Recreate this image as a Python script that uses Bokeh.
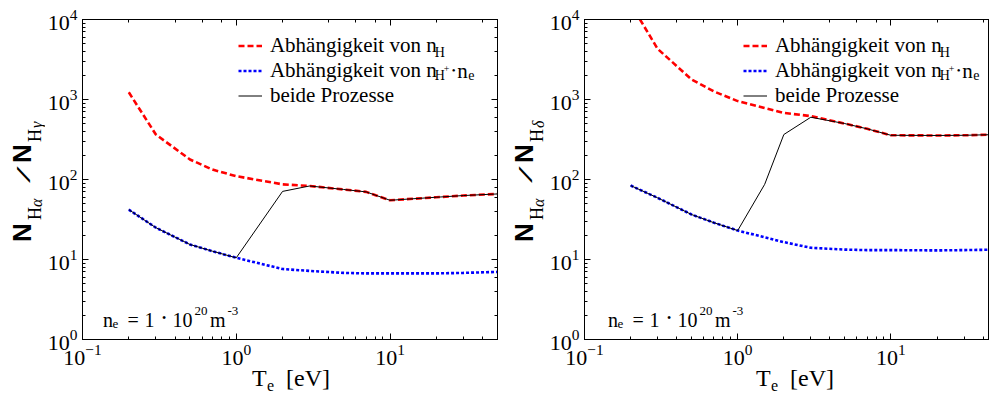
import math
from bokeh.plotting import figure
from bokeh.models import Range1d, LogAxis, Label, Legend, LegendItem, Div
from bokeh.layouts import row, column
from bokeh.embed import file_html
from bokeh.resources import INLINE

# ---------------- data ----------------
T_e = [0.2, 0.3, 0.5, 0.7, 1, 2, 3, 5, 7, 10, 20, 30, 50]

# left panel: N_Halpha / N_Hgamma
gamma_nH = [1230, 365, 178, 133, 110, 87, 83, 75, 70, 55, 60, 63, 66]
gamma_nHp_ne = [42, 25, 15.4, 12.7, 10.5, 7.6, 7.2, 6.8, 6.7, 6.7, 6.7, 6.8, 7.0]
gamma_both_T = [0.2, 0.3, 0.5, 0.7, 1, 2, 3, 5, 7, 10, 20, 30, 50]
gamma_both = [42, 25, 15.4, 12.7, 10.5, 71, 83, 75, 70, 55, 60, 63, 66]

# right panel: N_Halpha / N_Hdelta
delta_nH = [15700, 4300, 1780, 1260, 955, 680, 620, 500, 430, 357, 355, 357, 365]
delta_nHp_ne = [84, 59, 36.5, 28.8, 23, 16.5, 14.0, 13.3, 13.1, 13.1, 13.0, 13.1, 13.3]
delta_both_T = [0.2, 0.3, 0.5, 0.7, 1, 1.5, 2, 3, 5, 7, 10, 20, 30, 50]
delta_both = [84, 59, 36.5, 28.8, 23, 87, 365, 600, 500, 430, 357, 355, 357, 365]

legend_labels = ["Abhängigkeit von n", "Abhängigkeit von n", "beide Prozesse"]

SERIF = "Liberation Serif"
SANS = "Liberation Sans"
METRIC = {SERIF: (0.891, 0.216), SANS: (0.905, 0.212)}
FB = 340      # page y of frame bottom
OX, OY = 1, 1  # page origin of the layout


def put(p, FL, px, py, text, size, font=SERIF, style="normal"):
    p.add_layout(Label(x=px - FL, y=FB - py, x_units="screen", y_units="screen",
                       text=text, text_font=font, text_font_size=f"{size}px",
                       text_font_style=style, text_color="black",
                       text_align="left", text_baseline="alphabetic"))


def piece(text, x, yb, size, font=SERIF, weight="normal", style="normal",
          rot=False, sx=1.0, sy=1.0, dx0=0, dy0=0):
    a, d = METRIC[font]
    off = (a - d) / 2 * size
    base = (f"position:absolute;line-height:0;white-space:nowrap;margin:0;padding:0;"
            f"font-family:'{font}';font-size:{size}px;font-weight:{weight};"
            f"font-style:{style};color:black;")
    if not rot:
        left = x - dx0
        top = yb - off - dy0
        return f'<div style="{base}left:{left:.1f}px;top:{top:.1f}px;">{text}</div>'
    left = x - off * sy - dx0
    top = yb - dy0
    tr = f"rotate(-90deg) scale({sx},{sy})"
    return (f'<div style="{base}left:{left:.1f}px;top:{top:.1f}px;'
            f'transform:{tr};transform-origin:0 0;">{text}</div>')


def box(html, w, h):
    return Div(text=f'<div style="position:relative;width:{w}px;height:{h}px;overflow:visible;">{html}</div>',
               width=w, height=h, margin=0, styles={"overflow": "visible"})


def ylabel_div(greek, page_x0, w, h, shift):
    X = lambda v: v + shift
    k = dict(rot=True, dx0=page_x0, dy0=OY)
    parts = [
        piece("N", X(32), 242.5, 26, SANS, weight="bold", **k),
        piece("H", X(42), 221, 18, SERIF, **k),
        piece("α", X(43.5), 207.5, 16, SERIF, style="italic", **k),
        piece("/", X(30.6), 184, 30, SERIF, sx=2.0, sy=0.65, **k),
        piece("N", X(32), 164, 26, SANS, weight="bold", **k),
        piece("H", X(42), 142.5, 18, SERIF, **k),
        piece(greek, X(43.5), 129, 16, SERIF, style="italic", **k),
    ]
    return box("".join(parts), w, h)


def make_panel(T, nH, nHp, Tb, both, FL, fw, x_end, mbl, mbr, right_axis, leg_left, dx):
    p = figure(x_axis_type="log", y_axis_type="log",
               x_range=Range1d(0.1, x_end), y_range=Range1d(1, 1e4),
               frame_width=fw, frame_height=320,
               min_border_left=mbl, min_border_right=mbr,
               min_border_top=19, min_border_bottom=35,
               output_backend="svg", toolbar_location=None,
               background_fill_color="white", border_fill_color="white",
               outline_line_color="black", outline_line_width=1)
    p.grid.visible = False

    r1 = p.line(T, nH, line_color="#ff0000", line_width=2.6, line_dash="6 3")
    r2 = p.line(T, nHp, line_color="#0000ff", line_width=2.6, line_dash="3 2")
    r3 = p.line(Tb, both, line_color="black", line_width=1)

    for ax in [p.xaxis[0], p.yaxis[0]]:
        ax.major_tick_in = 6
        ax.major_tick_out = 0
        ax.minor_tick_in = 3
        ax.minor_tick_out = 0
        ax.major_label_text_font = SERIF
        ax.major_label_text_font_size = "22px"
        ax.major_label_text_color = "black"
        ax.axis_line_color = "black"
        ax.major_tick_line_color = "black"
        ax.minor_tick_line_color = "black"
        ax.major_label_standoff = 5

    extra = [("above", LogAxis())]
    if right_axis:
        extra.append(("right", LogAxis()))
    for side, ax in extra:
        ax.major_tick_in = 6
        ax.major_tick_out = 0
        ax.minor_tick_in = 3
        ax.minor_tick_out = 0
        ax.major_label_text_font_size = "2px"
        ax.major_label_text_alpha = 0
        ax.major_label_standoff = 0
        ax.axis_line_color = "black"
        p.add_layout(ax, side)

    legend = Legend(items=[LegendItem(label=legend_labels[0], renderers=[r1]),
                           LegendItem(label=legend_labels[1], renderers=[r2]),
                           LegendItem(label=legend_labels[2], renderers=[r3])],
                    location=(leg_left - FL + 2.2, FB - 101.5 - 7.5),
                    border_line_alpha=0, background_fill_alpha=0,
                    padding=0, margin=0, spacing=0,
                    glyph_width=24, glyph_height=23, label_height=23,
                    label_standoff=8, label_text_font=SERIF,
                    label_text_font_size="21px", label_text_color="black")
    p.add_layout(legend)

    # legend subscripts (E = end of the text "... von n")
    E = leg_left + 32 + 166
    B1, B2 = 42 + 6.3, 65 + 6.3
    put(p, FL, E + 0.5, B1 + 4.5, "H", 14)
    put(p, FL, E + 0.5, B2 + 4.5, "H", 14)
    put(p, FL, E + 9.5, B2 - 2, "+", 10)
    put(p, FL, E + 17.5, B2 - 1, "•", 11)
    put(p, FL, E + 23, B2, "n", 21)
    put(p, FL, E + 34, B2 + 4.5, "e", 14)

    # density annotation
    o = FL - 83 + dx
    put(p, FL, 103.5 + o, 320, "n", 20)
    put(p, FL, 113 + o, 324, "e", 13)
    put(p, FL, 128 + o, 320, "=", 20)
    put(p, FL, 145 + o, 320, "1", 20)
    put(p, FL, 162.5 + o, 318, "•", 12)
    put(p, FL, 173 + o, 320, "10", 20)
    put(p, FL, 195 + o, 311, "20", 13)
    put(p, FL, 210.5 + o, 320, "m", 20)
    put(p, FL, 228 + o, 311, "-3", 13)
    return p


FIG_H = 19 + 320 + 35
left = make_panel(T_e, gamma_nH, gamma_nHp_ne, gamma_both_T, gamma_both,
                  FL=83, fw=415, x_end=50, mbl=38, mbr=5, right_axis=True,
                  leg_left=236.7, dx=0)
right = make_panel(T_e, delta_nH, delta_nHp_ne, delta_both_T, delta_both,
                   FL=585, fw=405, x_end=44, mbl=38, mbr=0, right_axis=False,
                   leg_left=741.7, dx=3)

ylab_left = ylabel_div("γ", OX, 44, FIG_H, 0)
ylab_right = ylabel_div("δ", OX + 44 + 458, 44, FIG_H, 502)

# x axis labels (T_e [eV]) below both panels
XL_TOP = OY + FIG_H
xparts = []
for sh in (0, 504):
    xparts.append(piece("T", 253 + sh, 387, 24, dx0=OX, dy0=XL_TOP))
    xparts.append(piece("e", 268 + sh, 392, 16, dx0=OX, dy0=XL_TOP))
    xparts.append(piece("[eV]", 287 + sh, 387, 24, dx0=OX, dy0=XL_TOP))
xlab = box("".join(xparts), 989, 30)

layout = column(row(ylab_left, left, ylab_right, right, spacing=0), xlab, spacing=0)
open("out.html", "w").write(file_html(layout, INLINE))
